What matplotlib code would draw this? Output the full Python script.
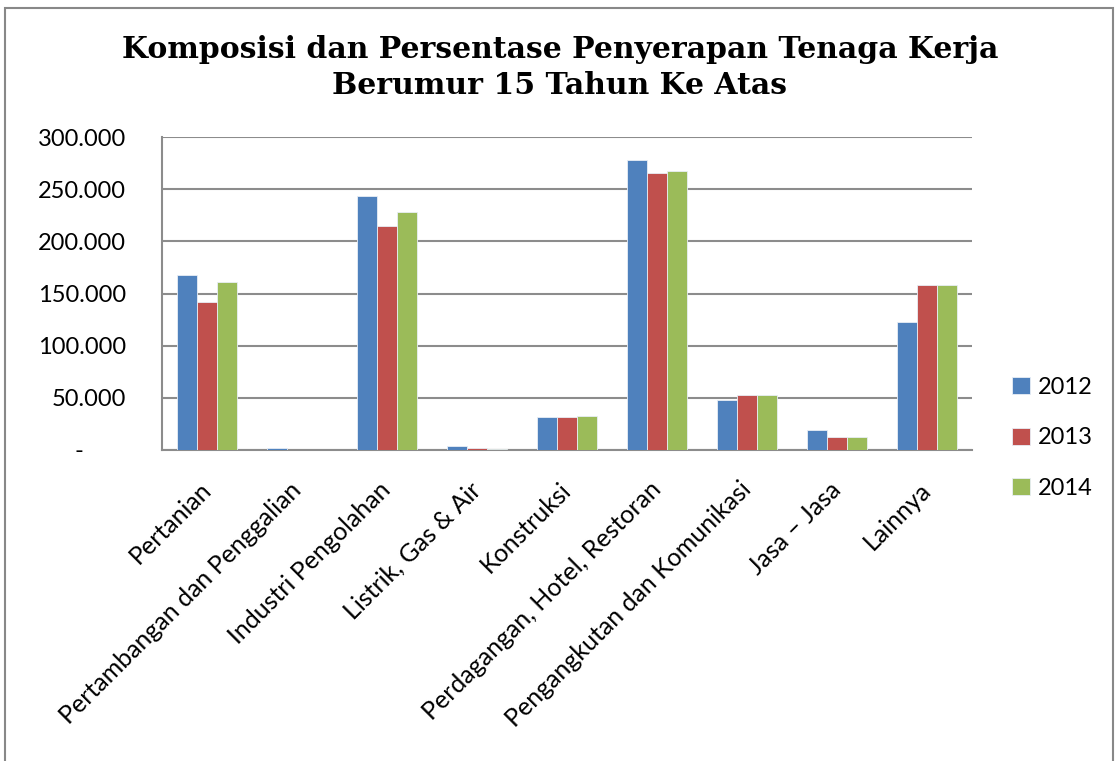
import matplotlib
matplotlib.use("Agg")
import matplotlib.pyplot as plt
from matplotlib.patches import Rectangle
import matplotlib.transforms as mtransforms
import numpy as np

categories = ["Pertanian", "Pertambangan dan Penggalian", "Industri Pengolahan",
              "Listrik, Gas & Air", "Konstruksi", "Perdagangan, Hotel, Restoran",
              "Pengangkutan dan Komunikasi", "Jasa \u2013 Jasa", "Lainnya"]
years = ["2012", "2013", "2014"]
v2012 = [168100, 2100, 243800, 3700, 31500, 278400, 47700, 19500, 122400]
v2013 = [141500, 300, 214900, 1500, 31200, 265600, 52300, 12800, 158000]
v2014 = [160800, 300, 227700, 1200, 32200, 267500, 53000, 12800, 158600]
yticks = [0, 50000, 100000, 150000, 200000, 250000, 300000]
ytick_labels = ["-       ", "50.000", "100.000", "150.000", "200.000", "250.000", "300.000"]
colors = ["#4F81BD", "#C0504D", "#9BBB59"]

fig = plt.figure(figsize=(11.19, 7.61), dpi=100)
fig.patches.append(Rectangle((5/1119, -0.05), 1108/1119, 1.05 - 8/761,
                             transform=fig.transFigure, fill=False,
                             edgecolor="#888888", linewidth=1.5))
ax = fig.add_axes([162/1119, 1 - 450/761, 810/1119, 313/761])

x = np.arange(len(categories))
w = 0.222
for i, (vals, c, lab) in enumerate(zip([v2012, v2013, v2014], colors, years)):
    ax.bar(x + (i - 1) * w, vals, width=w, color=c, edgecolor="#e8eef6",
           linewidth=0.6, label=lab, zorder=3)

ax.set_xlim(-0.5, len(categories) - 0.5)
ax.set_ylim(0, 300000)
ax.set_yticks(yticks)
ax.set_yticklabels(ytick_labels, fontsize=17, family="Lato")
ax.grid(axis="y", color="#8c8c8c", linewidth=1.5, zorder=0)
ax.set_xticks(x)
ax.set_xticklabels(categories, rotation=45, ha="right", rotation_mode="anchor",
                   fontsize=18, family="Lato")
ax.tick_params(axis="x", length=0, pad=20)
ax.tick_params(axis="y", length=0, pad=26)
offset = mtransforms.ScaledTranslation(-8/100, 0, fig.dpi_scale_trans)
for lbl in ax.get_xticklabels():
    lbl.set_transform(lbl.get_transform() + offset)
for s in ["top", "right"]:
    ax.spines[s].set_visible(False)
for s in ["left", "bottom"]:
    ax.spines[s].set_color("#8c8c8c")
    ax.spines[s].set_linewidth(1.5)

fig.text(560/1119, 1 - 50/761, "Komposisi dan Persentase Penyerapan Tenaga Kerja",
         ha="center", va="center", fontsize=21.5, fontweight="heavy", family="DejaVu Serif")
fig.text(560/1119, 1 - 86/761, "Berumur 15 Tahun Ke Atas",
         ha="center", va="center", fontsize=21.5, fontweight="heavy", family="DejaVu Serif")

leg = fig.legend(loc="center left", bbox_to_anchor=(991/1119, 1 - 438/761),
                 frameon=False, prop={"family": "Lato", "size": 17},
                 handlelength=0.75, handleheight=0.7, labelspacing=1.25,
                 handletextpad=0.35)

fig.savefig("out.png", dpi=100)
